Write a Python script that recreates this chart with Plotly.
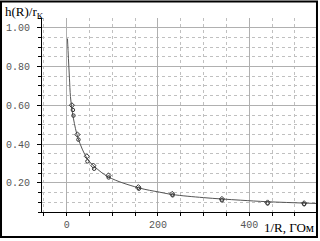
import plotly.graph_objects as go

# Fitted curve
curve_x = [1.8, 3.9, 6.1, 8.3, 11, 15, 25, 45, 62, 92, 157, 204, 232, 300, 380, 440, 547]
curve_y = [0.944, 0.84, 0.74, 0.645, 0.59, 0.53, 0.43, 0.325, 0.282, 0.23, 0.175, 0.152, 0.14, 0.124, 0.111, 0.103, 0.094]

# Measured points, series A (diamonds)
a_x = [11.4, 23.6, 44.2, 58.6, 91.5, 157, 231, 340, 440, 520]
a_y = [0.600, 0.449, 0.337, 0.289, 0.238, 0.178, 0.143, 0.117, 0.099, 0.095]

# Measured points, series B (circles)
b_x = [13.6, 14.9, 25.8, 45.5, 60.2, 92, 158, 232, 340, 440, 520]
b_y = [0.576, 0.547, 0.423, 0.311, 0.273, 0.228, 0.170, 0.136, 0.110, 0.094, 0.090]

y_ticks = [0.2, 0.4, 0.6, 0.8, 1.0]
x_ticks = [0, 200, 400]

fig = go.Figure()
fig.add_trace(go.Scatter(x=curve_x, y=curve_y, mode="lines", line=dict(color="#555555", width=1, shape="spline"),
                         hoverinfo="skip"))
fig.add_trace(go.Scatter(x=a_x, y=a_y, mode="markers",
                         marker=dict(symbol="diamond-open", size=4, color="#333333", line=dict(width=1))))
fig.add_trace(go.Scatter(x=b_x, y=b_y, mode="markers",
                         marker=dict(symbol="circle-open", size=3.5, color="#333333", line=dict(width=1))))

grid_major = "#b0b0b0"
grid_minor = "#c0c0c0"
tickfont = dict(family="Liberation Mono", size=10, color="#555555")

fig.update_layout(
    width=320, height=241,
    margin=dict(l=42, r=4, t=18, b=29),
    paper_bgcolor="white", plot_bgcolor="white",
    showlegend=False,
    xaxis=dict(range=[-54, 546], tickvals=x_ticks, ticktext=[str(v) for v in x_ticks],
               showgrid=True, gridcolor=grid_major, gridwidth=1,
               showline=True, linecolor="black", linewidth=1,
               ticks="outside", ticklen=3, tickcolor="black",
               minor=dict(dtick=50, tick0=0, showgrid=True, gridcolor=grid_minor, griddash="dot",
                          ticks="outside", ticklen=3, tickcolor="black"),
               tickfont=tickfont, zeroline=False, fixedrange=True),
    yaxis=dict(range=[0.05, 1.05], tickvals=y_ticks, ticktext=["%.2f" % v for v in y_ticks],
               showgrid=True, gridcolor=grid_major, gridwidth=1,
               showline=True, linecolor="black", linewidth=1,
               ticks="outside", ticklen=4, tickcolor="black", ticklabelstandoff=5,
               minor=dict(dtick=0.05, tick0=0, showgrid=True, gridcolor=grid_minor, griddash="dot",
                          ticks="outside", ticklen=3, tickcolor="black"),
               tickfont=tickfont, zeroline=False, fixedrange=True),
    shapes=[dict(type="rect", xref="paper", yref="paper",
                 x0=-0.1496, x1=1.0036, y0=-0.1285, y1=1.085,
                 line=dict(color="black", width=2), fillcolor="rgba(0,0,0,0)")],
    annotations=[
        dict(text="h(R)/r<sub>K</sub>", xref="paper", yref="paper", x=-0.142, y=1.08,
             xanchor="left", yanchor="top", showarrow=False,
             font=dict(family="Liberation Serif", size=13, color="black")),
        dict(text="1/R, ГОм", xref="paper", yref="paper", x=1.0, y=-0.03,
             xanchor="right", yanchor="top", showarrow=False,
             font=dict(family="Liberation Serif", size=13, color="black")),
    ],
)

fig.write_html("out.html")
